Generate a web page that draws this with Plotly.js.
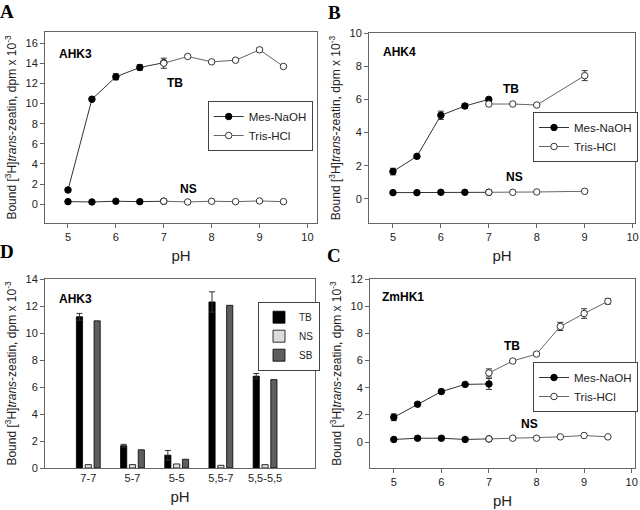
<!DOCTYPE html>
<html><head><meta charset="utf-8">
<script src="https://cdn.plot.ly/plotly-3.0.1.min.js"></script>
<style>body{margin:0;padding:0;background:#fff}#c{width:640px;height:510px}</style>
</head><body><div id="c"></div>
<script>
// Panel A (AHK3)
const A_mesX = [5, 5.5, 6, 6.5, 7];
const A_mesTB = [1.42, 10.43, 12.65, 13.58, 14.05];
const A_mesTBerr = [0.1, 0.1, 0.3, 0.27, 0.1];
const A_trisX = [7, 7.5, 8, 8.5, 9, 9.5];
const A_trisTB = [14.0, 14.67, 14.14, 14.3, 15.33, 13.68];
const A_trisTBerr = [0.5, 0.1, 0.1, 0.1, 0.2, 0.1];
const A_mesNS = [0.26, 0.23, 0.3, 0.26, 0.3];
const A_trisNS = [0.3, 0.23, 0.3, 0.26, 0.33, 0.26];

// Panel B (AHK4)
const B_mesX = [5, 5.5, 6, 6.5, 7];
const B_mesTB = [1.65, 2.57, 5.04, 5.6, 6.0];
const B_mesTBerr = [0.2, 0.05, 0.25, 0.15, 0.1];
const B_trisX = [7, 7.5, 8, 9];
const B_trisTB = [5.72, 5.72, 5.66, 7.43];
const B_trisTBerr = [0.05, 0.05, 0.05, 0.3];
const B_mesNS = [0.38, 0.38, 0.4, 0.4, 0.4];
const B_trisNS = [0.4, 0.4, 0.42, 0.46];

// Panel C (ZmHK1)
const C_mesX = [5, 5.5, 6, 6.5, 7];
const C_mesTB = [1.83, 2.79, 3.72, 4.25, 4.28];
const C_mesTBerr = [0.25, 0.05, 0.05, 0.05, 0.4];
const C_trisX = [7, 7.5, 8, 8.5, 9, 9.5];
const C_trisTB = [5.09, 5.97, 6.48, 8.51, 9.46, 10.36];
const C_trisTBerr = [0.3, 0.05, 0.05, 0.3, 0.35, 0.2];
const C_mesNS = [0.2, 0.29, 0.29, 0.2, 0.24];
const C_trisNS = [0.24, 0.29, 0.29, 0.39, 0.49, 0.39];

// Panel D (AHK3 bars)
const D_cats = ["7-7", "5-7", "5-5", "5,5-7", "5,5-5,5"];
const D_TB = [11.2, 1.65, 0.95, 12.3, 6.8];
const D_TBerr = [0.25, 0.1, 0.35, 0.75, 0.2];
const D_NS = [0.25, 0.25, 0.3, 0.2, 0.25];
const D_SB = [10.9, 1.35, 0.65, 12.05, 6.55];

const FONT = "Liberation Sans, Arial, sans-serif";
const W = 640, H = 510;
const dx = (a, b) => [a / W, b / W];
const dy = (top, bot) => [1 - bot / H, 1 - top / H];

function lineTraces(xa, ya, leg, mesX, mesTB, mesErr, trisX, trisTB, trisErr, mesNS, trisNS) {
  const mesStyle = {color: '#000', size: 6.5, line: {color: '#000', width: 1}};
  const trisStyle = {color: '#fff', size: 6.5, line: {color: '#333', width: 1}};
  const base = {type: 'scatter', mode: 'lines+markers', xaxis: xa, yaxis: ya, legend: leg, cliponaxis: false};
  return [
    Object.assign({}, base, {x: mesX, y: mesNS, marker: mesStyle, line: {color: '#333', width: 1}, showlegend: false}),
    Object.assign({}, base, {x: trisX, y: trisNS, marker: trisStyle, line: {color: '#666', width: 1}, showlegend: false}),
    Object.assign({}, base, {x: mesX, y: mesTB, name: 'Mes-NaOH', marker: mesStyle, line: {color: '#333', width: 1},
      error_y: {type: 'data', array: mesErr, color: '#333', thickness: 1, width: 3}}),
    Object.assign({}, base, {x: trisX, y: trisTB, name: 'Tris-HCl', marker: trisStyle, line: {color: '#666', width: 1},
      error_y: {type: 'data', array: trisErr, color: '#333', thickness: 1, width: 3}})
  ];
}

const data = [].concat(
  lineTraces('x', 'y', 'legend', A_mesX, A_mesTB, A_mesTBerr, A_trisX, A_trisTB, A_trisTBerr, A_mesNS, A_trisNS),
  lineTraces('x2', 'y2', 'legend2', B_mesX, B_mesTB, B_mesTBerr, B_trisX, B_trisTB, B_trisTBerr, B_mesNS, B_trisNS),
  lineTraces('x4', 'y4', 'legend4', C_mesX, C_mesTB, C_mesTBerr, C_trisX, C_trisTB, C_trisTBerr, C_mesNS, C_trisNS),
  [
    {type: 'bar', x: D_cats, y: D_TB, name: 'TB', xaxis: 'x3', yaxis: 'y3', legend: 'legend3',
     marker: {color: '#000', line: {color: '#000', width: 0.8}},
     error_y: {type: 'data', array: D_TBerr, color: '#333', thickness: 1, width: 3}},
    {type: 'bar', x: D_cats, y: D_NS, name: 'NS', xaxis: 'x3', yaxis: 'y3', legend: 'legend3',
     marker: {color: '#dcdcdc', line: {color: '#000', width: 0.8}}},
    {type: 'bar', x: D_cats, y: D_SB, name: 'SB', xaxis: 'x3', yaxis: 'y3', legend: 'legend3',
     marker: {color: '#5e5e5e', line: {color: '#000', width: 0.8}}}
  ]
);

const ytitle = 'Bound [<sup>3</sup>H]<i>trans</i>-zeatin, dpm x 10<sup>-3</sup>';
function xax(domain, anchor, extra) {
  return Object.assign({domain: domain, anchor: anchor, showline: true, mirror: true, linecolor: '#666', linewidth: 1,
    ticks: 'outside', ticklen: 4, tickcolor: '#666', showgrid: false, zeroline: false, automargin: false,
    tickfont: {family: FONT, size: 11, color: '#222'},
    title: {text: 'pH', font: {family: FONT, size: 15, color: '#222'}, standoff: 8}}, extra);
}
function yax(domain, anchor, extra) {
  return Object.assign({domain: domain, anchor: anchor, showline: true, mirror: true, linecolor: '#666', linewidth: 1,
    ticks: 'outside', ticklen: 4, tickcolor: '#666', showgrid: false, zeroline: false, automargin: false,
    tickfont: {family: FONT, size: 11, color: '#222'},
    title: {text: ytitle, font: {family: FONT, size: 12, color: '#222'}, standoff: 6}}, extra);
}
const legBase = {bgcolor: '#fff', bordercolor: '#444', borderwidth: 1, xanchor: 'left', yanchor: 'top',
  font: {family: FONT, size: 11.5, color: '#222'}, tracegroupgap: 0, itemwidth: 30};

const ann = (t, x, y, size) => ({text: '<b>' + t + '</b>', x: x / W, y: 1 - y / H, xref: 'paper', yref: 'paper',
  showarrow: false, font: {family: FONT, size: size || 12, color: '#000'}, xanchor: 'center', yanchor: 'middle'});
const letter = (t, x, y) => ({text: '<b>' + t + '</b>', x: x / W, y: 1 - y / H, xref: 'paper', yref: 'paper',
  showarrow: false, font: {family: 'Liberation Serif, Times New Roman, serif', size: 19, color: '#000'}, xanchor: 'center', yanchor: 'middle'});

const layout = {
  width: W, height: H, margin: {l: 0, r: 0, t: 0, b: 0, autoexpand: false}, paper_bgcolor: '#fff', plot_bgcolor: '#fff',
  showlegend: true, barmode: 'group', bargap: 0.4, bargroupgap: 0.3,
  xaxis: xax(dx(45, 317), 'y', {range: [4.52, 10.2], tickvals: [5,6,7,8,9,10]}),
  yaxis: yax(dy(32, 223), 'x', {range: [-1.86, 17.1], tickvals: [0,2,4,6,8,10,12,14,16]}),
  xaxis2: xax(dx(369, 635), 'y2', {range: [4.5, 10.05], tickvals: [5,6,7,8,9,10]}),
  yaxis2: yax(dy(33, 223), 'x2', {range: [-1.45, 10], tickvals: [0,2,4,6,8,10]}),
  xaxis3: xax(dx(45, 315), 'y3', {type: 'category', range: [-0.98, 5.13], ticks: ''}),
  yaxis3: yax(dy(279, 468), 'x3', {range: [0, 14], tickvals: [0,2,4,6,8,10,12,14]}),
  xaxis4: xax(dx(370, 635), 'y4', {range: [4.5, 10.07], tickvals: [5,6,7,8,9,10]}),
  yaxis4: yax(dy(279, 468), 'x4', {range: [-1.9, 12], tickvals: [0,2,4,6,8,10,12]}),
  legend: Object.assign({}, legBase, {x: 207.7 / W, y: 1 - 101 / H}),
  legend2: Object.assign({}, legBase, {x: 533 / W, y: 1 - 112 / H}),
  legend4: Object.assign({}, legBase, {x: 533 / W, y: 1 - 362 / H}),
  legend3: Object.assign({}, legBase, {x: 258 / W, y: 1 - 301.7 / H, font: {family: FONT, size: 10, color: '#222'}}),
  annotations: [
    ann('AHK3', 75, 54), ann('TB', 175, 83), ann('NS', 188, 189),
    ann('AHK4', 399, 52), ann('TB', 511, 89), ann('NS', 514, 177),
    ann('ZmHK1', 403, 297), ann('TB', 512, 346), ann('NS', 529, 424),
    ann('AHK3', 75, 299),
    letter('A', 7, 11), letter('B', 334, 12), letter('D', 7, 251), letter('C', 334, 255)
  ]
};
Plotly.newPlot('c', data, layout, {staticPlot: true, displayModeBar: false});
</script></body></html>
